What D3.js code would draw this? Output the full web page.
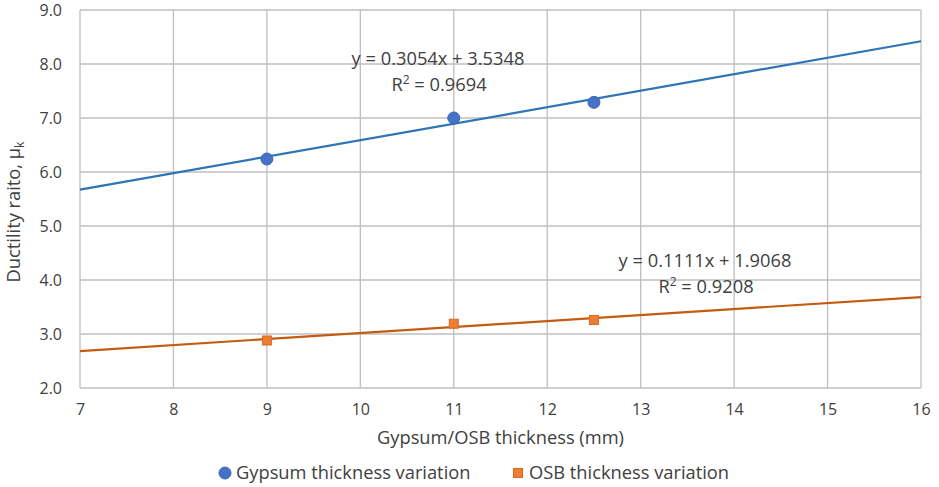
<!DOCTYPE html>
<html>
<head>
<meta charset="utf-8">
<script src="https://cdn.jsdelivr.net/npm/d3@7"></script>
<style>
  html, body { margin: 0; padding: 0; background: #fff; }
  svg { display: block; font-family: "Open Sans", "Noto Sans", sans-serif; }
</style>
</head>
<body>
<svg id="chart" width="939" height="487"></svg>
<script>
// Thickness of the sheathing (mm) for each tested specimen
const thickness = [9, 11, 12.5];
// Measured ductility ratios
const gypsumDuctility = [6.24, 7.00, 7.29];
const osbDuctility = [2.88, 3.19, 3.26];
// Linear trend fits: [slope, intercept, R²]
const gypsumFit = [0.3054, 3.5348, 0.9694];
const osbFit = [0.1111, 1.9068, 0.9208];
// Axis ticks
const xTicks = [7, 8, 9, 10, 11, 12, 13, 14, 15, 16];
const yTicks = [2, 3, 4, 5, 6, 7, 8, 9];

const svg = d3.select("#chart");
const margin = { left: 80, right: 18, top: 10, bottom: 99 };
const W = 939, H = 487;

const x = d3.scaleLinear().domain([7, 16]).range([margin.left, W - margin.right]);
const y = d3.scaleLinear().domain([2, 9]).range([H - margin.bottom, margin.top]);

const textColor = "#404040";
const gridColor = "#bfbfbf";
const labelSize = "18.3px";

// Gridlines
svg.append("g").selectAll("line.v").data(xTicks).join("line")
  .attr("x1", d => x(d)).attr("x2", d => x(d))
  .attr("y1", y(2)).attr("y2", y(9))
  .attr("stroke", gridColor).attr("stroke-width", 1.3);
svg.append("g").selectAll("line.h").data(yTicks).join("line")
  .attr("x1", x(7)).attr("x2", x(16))
  .attr("y1", d => y(d)).attr("y2", d => y(d))
  .attr("stroke", gridColor).attr("stroke-width", 1.3);

// Axes (labels only; the gridlines frame the plot)
const xAxis = svg.append("g").attr("transform", `translate(0,${y(2)})`)
  .call(d3.axisBottom(x).tickValues(xTicks).tickSize(0).tickPadding(16).tickFormat(d3.format("d")));
const yAxis = svg.append("g").attr("transform", `translate(${x(7)},0)`)
  .call(d3.axisLeft(y).tickValues(yTicks).tickSize(0).tickPadding(18).tickFormat(d3.format(".1f")));
[xAxis, yAxis].forEach(a => {
  a.select(".domain").remove();
  a.selectAll("text").attr("fill", textColor).style("font-size", "16px")
    .style("font-family", "'Open Sans', sans-serif");
});

// Trend lines across the full x range
const line = d3.line().x(d => x(d[0])).y(d => y(d[1]));
function trend(fit) {
  return [7, 16].map(t => [t, fit[0] * t + fit[1]]);
}
svg.append("path").datum(trend(gypsumFit)).attr("d", line)
  .attr("fill", "none").attr("stroke", "#2e75b6").attr("stroke-width", 2.2);
svg.append("path").datum(trend(osbFit)).attr("d", line)
  .attr("fill", "none").attr("stroke", "#c55a11").attr("stroke-width", 2.2);

// Markers
svg.append("g").selectAll("circle").data(thickness).join("circle")
  .attr("cx", d => x(d)).attr("cy", (d, i) => y(gypsumDuctility[i]))
  .attr("r", 6).attr("fill", "#4472c4").attr("stroke", "#3b66b3").attr("stroke-width", 1);
const sq = 9;
svg.append("g").selectAll("rect").data(thickness).join("rect")
  .attr("x", d => x(d) - sq / 2).attr("y", (d, i) => y(osbDuctility[i]) - sq / 2)
  .attr("width", sq).attr("height", sq)
  .attr("fill", "#ed7d31").attr("stroke", "#d86a20").attr("stroke-width", 1);

// Equation labels
function eqLabel(fit, cx, cy) {
  const g = svg.append("g").attr("fill", textColor).style("font-size", labelSize);
  g.append("text").attr("x", cx).attr("y", cy).attr("text-anchor", "middle")
    .text(`y = ${fit[0].toFixed(4)}x + ${fit[1].toFixed(4)}`);
  const t = g.append("text").attr("x", cx + 1).attr("y", cy + 26).attr("text-anchor", "middle");
  t.append("tspan").text("R");
  t.append("tspan").attr("dy", -7).style("font-size", "12px").text("2");
  t.append("tspan").attr("dy", 7).text(` = ${fit[2].toFixed(4)}`);
}
eqLabel(gypsumFit, 438, 65);
eqLabel(osbFit, 705, 267);

// Axis titles
svg.append("text").attr("x", (x(7) + x(16)) / 2).attr("y", 444)
  .attr("text-anchor", "middle").attr("fill", textColor).style("font-size", labelSize)
  .text("Gypsum/OSB thickness (mm)");
const yt = svg.append("text")
  .attr("transform", `translate(20,212) rotate(-90)`)
  .attr("text-anchor", "middle").attr("fill", textColor).style("font-size", labelSize);
yt.append("tspan").text("Ductility raito, μ");
yt.append("tspan").attr("dy", 4).style("font-size", "12px").text("k");

// Legend
const legend = svg.append("g").style("font-size", labelSize).attr("fill", textColor);
legend.append("circle").attr("cx", 225).attr("cy", 473).attr("r", 6)
  .attr("fill", "#4472c4").attr("stroke", "#3b66b3");
legend.append("text").attr("x", 236).attr("y", 479).text("Gypsum thickness variation");
legend.append("rect").attr("x", 518 - sq / 2).attr("y", 473 - sq / 2).attr("width", sq).attr("height", sq)
  .attr("fill", "#ed7d31").attr("stroke", "#d86a20");
legend.append("text").attr("x", 529).attr("y", 479).text("OSB thickness variation");
</script>
</body>
</html>
